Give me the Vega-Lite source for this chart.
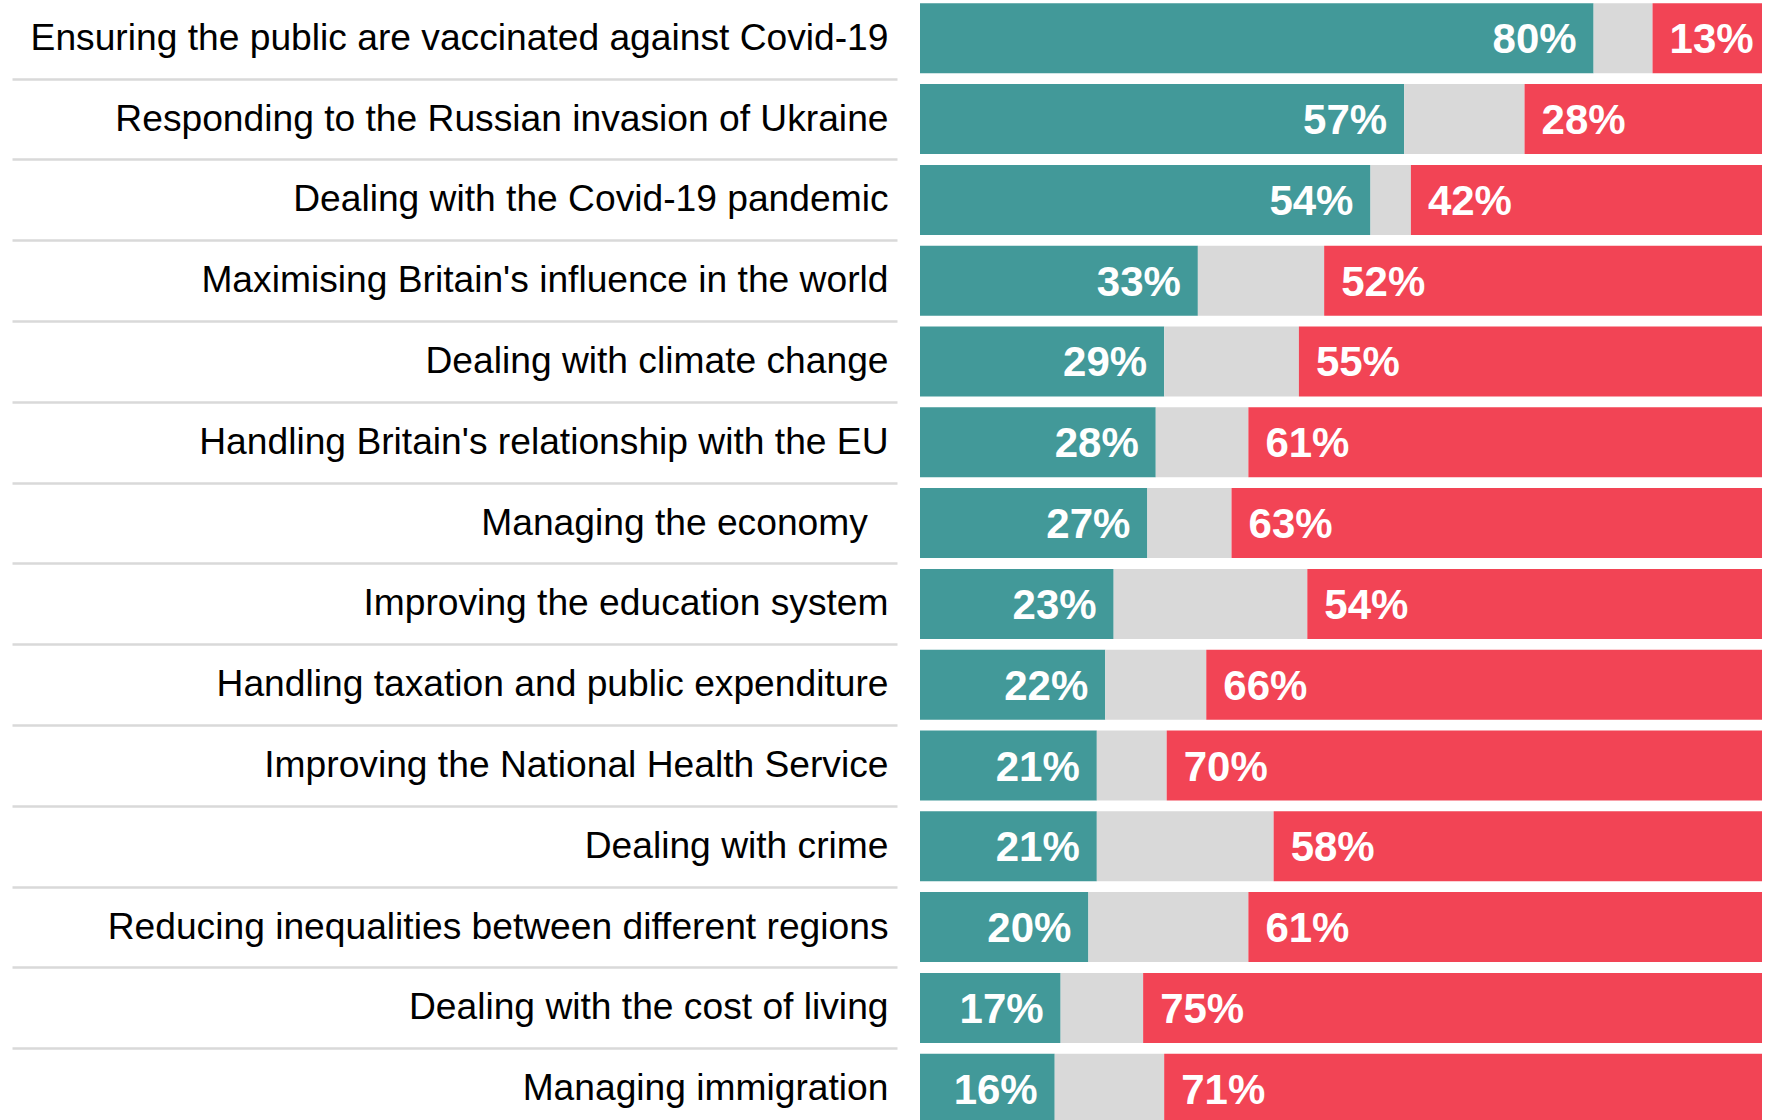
{
  "$schema": "https://vega.github.io/schema/vega-lite/v6.json",
  "width": 842,
  "height": 1127,
  "autosize": {"type": "none"},
  "padding": {"left": 920, "top": 0, "right": 13, "bottom": 0},
  "background": "white",
  "config": {"view": {"stroke": null}},
  "data": {
    "values": [
      {"topic": "Ensuring the public are vaccinated against Covid-19", "category": "Well", "order": 1, "value": 80, "label": "80%"},
      {"topic": "Ensuring the public are vaccinated against Covid-19", "category": "Neither", "order": 2, "value": 7, "label": ""},
      {"topic": "Ensuring the public are vaccinated against Covid-19", "category": "Badly", "order": 3, "value": 13, "label": "13%"},
      {"topic": "Responding to the Russian invasion of Ukraine", "category": "Well", "order": 1, "value": 57.5, "label": "57%"},
      {"topic": "Responding to the Russian invasion of Ukraine", "category": "Neither", "order": 2, "value": 14.3, "label": ""},
      {"topic": "Responding to the Russian invasion of Ukraine", "category": "Badly", "order": 3, "value": 28.2, "label": "28%"},
      {"topic": "Dealing with the Covid-19 pandemic", "category": "Well", "order": 1, "value": 53.5, "label": "54%"},
      {"topic": "Dealing with the Covid-19 pandemic", "category": "Neither", "order": 2, "value": 4.8, "label": ""},
      {"topic": "Dealing with the Covid-19 pandemic", "category": "Badly", "order": 3, "value": 41.7, "label": "42%"},
      {"topic": "Maximising Britain's influence in the world", "category": "Well", "order": 1, "value": 33, "label": "33%"},
      {"topic": "Maximising Britain's influence in the world", "category": "Neither", "order": 2, "value": 15, "label": ""},
      {"topic": "Maximising Britain's influence in the world", "category": "Badly", "order": 3, "value": 52, "label": "52%"},
      {"topic": "Dealing with climate change", "category": "Well", "order": 1, "value": 29, "label": "29%"},
      {"topic": "Dealing with climate change", "category": "Neither", "order": 2, "value": 16, "label": ""},
      {"topic": "Dealing with climate change", "category": "Badly", "order": 3, "value": 55, "label": "55%"},
      {"topic": "Handling Britain's relationship with the EU", "category": "Well", "order": 1, "value": 28, "label": "28%"},
      {"topic": "Handling Britain's relationship with the EU", "category": "Neither", "order": 2, "value": 11, "label": ""},
      {"topic": "Handling Britain's relationship with the EU", "category": "Badly", "order": 3, "value": 61, "label": "61%"},
      {"topic": "Managing the economy\u00a0\u00a0\u2060", "category": "Well", "order": 1, "value": 27, "label": "27%"},
      {"topic": "Managing the economy\u00a0\u00a0\u2060", "category": "Neither", "order": 2, "value": 10, "label": ""},
      {"topic": "Managing the economy\u00a0\u00a0\u2060", "category": "Badly", "order": 3, "value": 63, "label": "63%"},
      {"topic": "Improving the education system", "category": "Well", "order": 1, "value": 23, "label": "23%"},
      {"topic": "Improving the education system", "category": "Neither", "order": 2, "value": 23, "label": ""},
      {"topic": "Improving the education system", "category": "Badly", "order": 3, "value": 54, "label": "54%"},
      {"topic": "Handling taxation and public expenditure", "category": "Well", "order": 1, "value": 22, "label": "22%"},
      {"topic": "Handling taxation and public expenditure", "category": "Neither", "order": 2, "value": 12, "label": ""},
      {"topic": "Handling taxation and public expenditure", "category": "Badly", "order": 3, "value": 66, "label": "66%"},
      {"topic": "Improving the National Health Service", "category": "Well", "order": 1, "value": 21, "label": "21%"},
      {"topic": "Improving the National Health Service", "category": "Neither", "order": 2, "value": 8.3, "label": ""},
      {"topic": "Improving the National Health Service", "category": "Badly", "order": 3, "value": 70.7, "label": "70%"},
      {"topic": "Dealing with crime", "category": "Well", "order": 1, "value": 21, "label": "21%"},
      {"topic": "Dealing with crime", "category": "Neither", "order": 2, "value": 21, "label": ""},
      {"topic": "Dealing with crime", "category": "Badly", "order": 3, "value": 58, "label": "58%"},
      {"topic": "Reducing inequalities between different regions", "category": "Well", "order": 1, "value": 20, "label": "20%"},
      {"topic": "Reducing inequalities between different regions", "category": "Neither", "order": 2, "value": 19, "label": ""},
      {"topic": "Reducing inequalities between different regions", "category": "Badly", "order": 3, "value": 61, "label": "61%"},
      {"topic": "Dealing with the cost of living", "category": "Well", "order": 1, "value": 16.7, "label": "17%"},
      {"topic": "Dealing with the cost of living", "category": "Neither", "order": 2, "value": 9.8, "label": ""},
      {"topic": "Dealing with the cost of living", "category": "Badly", "order": 3, "value": 73.5, "label": "75%"},
      {"topic": "Managing immigration", "category": "Well", "order": 1, "value": 16, "label": "16%"},
      {"topic": "Managing immigration", "category": "Neither", "order": 2, "value": 13, "label": ""},
      {"topic": "Managing immigration", "category": "Badly", "order": 3, "value": 71, "label": "71%"}
    ]
  },
  "transform": [
    {"stack": "value", "groupby": ["topic"], "sort": [{"field": "order", "order": "ascending"}], "as": ["x0", "x1"]}
  ],
  "encoding": {
    "y": {
      "field": "topic",
      "type": "nominal",
      "sort": null,
      "scale": {"paddingInner": 0.134, "paddingOuter": 0.041},
      "axis": {
        "title": null,
        "domain": false,
        "offset": 23,
        "ticks": true,
        "tickSize": 885,
        "tickColor": "#d9d9d9",
        "tickWidth": 2.5,
        "bandPosition": 0,
        "tickOffset": -5.5,
        "labelOffset": 5.5,
        "labelPadding": -876,
        "labelFont": "Liberation Sans",
        "labelFontSize": 37.2,
        "labelColor": "#000000",
        "labelLimit": 1000,
        "labelOverlap": false,
        "labelBound": false,
        "labelAlign": "right",
        "labelBaseline": "middle"
      }
    }
  },
  "layer": [
    {
      "mark": {"type": "bar"},
      "encoding": {
        "x": {"field": "x0", "type": "quantitative", "scale": {"domain": [0, 100], "nice": false}, "axis": null},
        "x2": {"field": "x1"},
        "color": {
          "field": "category",
          "type": "nominal",
          "scale": {"domain": ["Well", "Neither", "Badly"], "range": ["#429999", "#d9d9d9", "#f24455"]},
          "legend": null
        }
      }
    },
    {
      "transform": [{"filter": "datum.category === 'Well'"}],
      "mark": {"type": "text", "align": "right", "baseline": "middle", "dx": -17, "dy": 2, "font": "Liberation Sans", "fontWeight": "bold", "fontSize": 42, "color": "white"},
      "encoding": {
        "x": {"field": "x1", "type": "quantitative"},
        "text": {"field": "label", "type": "nominal"}
      }
    },
    {
      "transform": [{"filter": "datum.category === 'Badly'"}],
      "mark": {"type": "text", "align": "left", "baseline": "middle", "dx": 17, "dy": 2, "font": "Liberation Sans", "fontWeight": "bold", "fontSize": 42, "color": "white"},
      "encoding": {
        "x": {"field": "x0", "type": "quantitative"},
        "text": {"field": "label", "type": "nominal"}
      }
    }
  ]
}
